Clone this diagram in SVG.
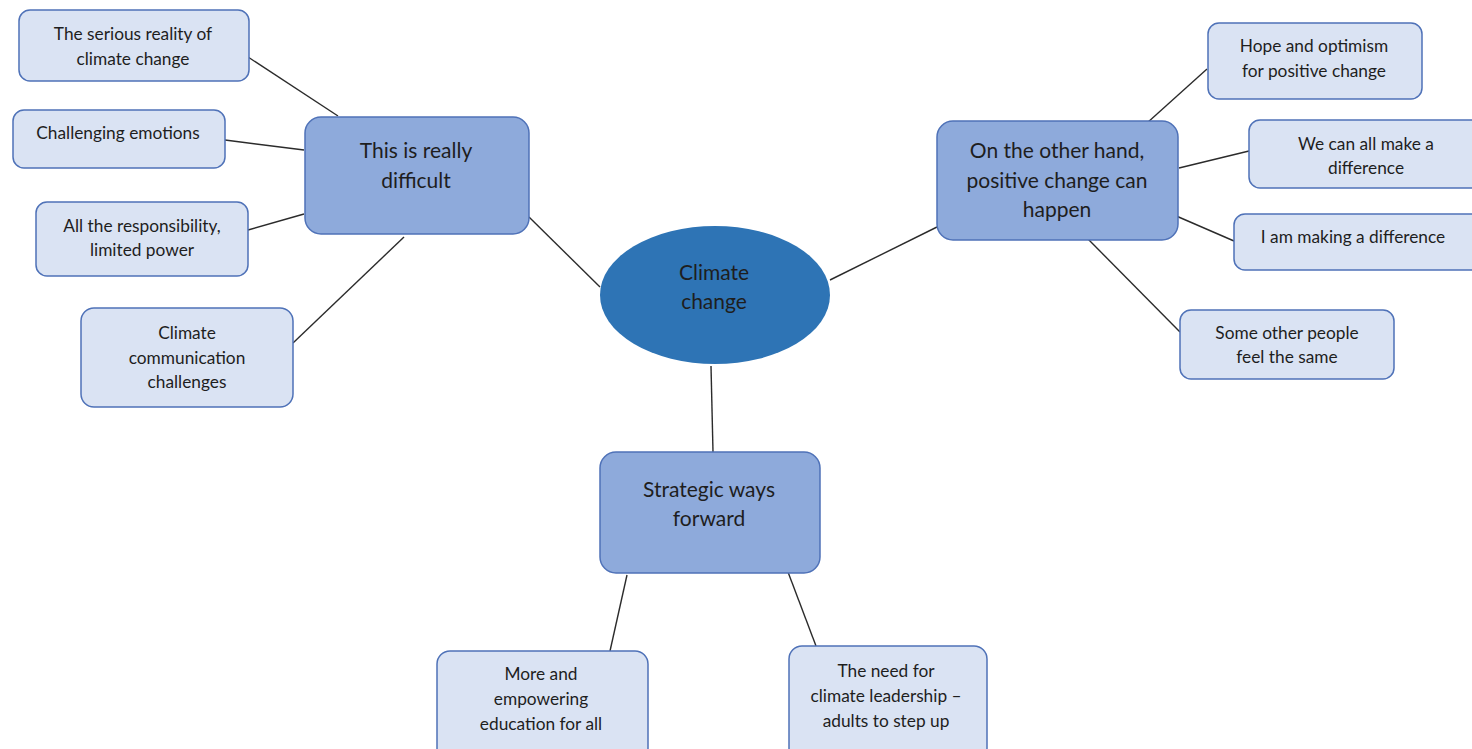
<svg xmlns="http://www.w3.org/2000/svg" width="1472" height="749" viewBox="0 0 1472 749">
<style>
.sub{fill:#dae3f3;stroke:#4f72b8;stroke-width:1.5}
.main{fill:#8eaadb;stroke:#4f72b8;stroke-width:1.5}
.t{font-family:Lato,"Open Sans",sans-serif;font-size:17.3px;fill:#1e1e1e;text-anchor:middle}
.tm{font-family:Lato,"Open Sans",sans-serif;font-size:21px;fill:#1e1e1e;text-anchor:middle}
.c line{stroke:#2b2b2b;stroke-width:1.4}
</style>
<rect width="1472" height="749" fill="#ffffff"/>
<g class="c" id="connectors">
<line x1="600" y1="287" x2="529" y2="217"/>
<line x1="248" y1="57" x2="338" y2="116"/>
<line x1="225" y1="140" x2="304" y2="150"/>
<line x1="248" y1="230" x2="304" y2="214"/>
<line x1="293" y1="343" x2="404" y2="237"/>
<line x1="830" y1="280" x2="937" y2="227"/>
<line x1="1147" y1="123" x2="1207" y2="69"/>
<line x1="1179" y1="168" x2="1249" y2="151"/>
<line x1="1174" y1="215" x2="1234" y2="241"/>
<line x1="1088" y1="239" x2="1180" y2="332"/>
<line x1="711" y1="366" x2="713" y2="452"/>
<line x1="627" y1="575" x2="610" y2="651"/>
<line x1="788" y1="572" x2="816" y2="646"/>
</g>
<g id="center">
<ellipse cx="715" cy="295" rx="115" ry="69" fill="#2e74b5"/>
<text class="tm" x="714" y="280">Climate</text>
<text class="tm" x="714" y="309">change</text>
</g>
<g id="difficult">
<rect class="main" x="305" y="117" width="224" height="117" rx="16"/>
<text class="tm" x="416" y="158">This is really</text>
<text class="tm" x="416" y="188">difficult</text>
</g>
<g id="positive">
<rect class="main" x="937" y="121" width="241" height="119" rx="16"/>
<text class="tm" x="1057" y="158">On the other hand,</text>
<text class="tm" x="1057" y="188">positive change can</text>
<text class="tm" x="1057" y="217">happen</text>
</g>
<g id="strategic">
<rect class="main" x="600" y="452" width="220" height="121" rx="16"/>
<text class="tm" x="709" y="497">Strategic ways</text>
<text class="tm" x="709" y="526">forward</text>
</g>
<g id="serious">
<rect class="sub" x="19" y="10" width="230" height="71" rx="11"/>
<text class="t" x="133" y="40">The serious reality of</text>
<text class="t" x="133" y="65">climate change</text>
</g>
<g id="emotions">
<rect class="sub" x="13" y="110" width="212" height="58" rx="11"/>
<text class="t" x="118" y="139">Challenging emotions</text>
</g>
<g id="responsibility">
<rect class="sub" x="36" y="202" width="212" height="74" rx="11"/>
<text class="t" x="142" y="232">All the responsibility,</text>
<text class="t" x="142" y="256">limited power</text>
</g>
<g id="communication">
<rect class="sub" x="81" y="308" width="212" height="99" rx="13"/>
<text class="t" x="187" y="339">Climate</text>
<text class="t" x="187" y="364">communication</text>
<text class="t" x="187" y="388">challenges</text>
</g>
<g id="hope">
<rect class="sub" x="1208" y="23" width="214" height="76" rx="11"/>
<text class="t" x="1314" y="52">Hope and optimism</text>
<text class="t" x="1314" y="77">for positive change</text>
</g>
<g id="weall">
<rect class="sub" x="1249" y="120" width="235" height="68" rx="11"/>
<text class="t" x="1366" y="150">We can all make a</text>
<text class="t" x="1366" y="174">difference</text>
</g>
<g id="iam">
<rect class="sub" x="1234" y="214" width="250" height="56" rx="11"/>
<text class="t" x="1353" y="243">I am making a difference</text>
</g>
<g id="others">
<rect class="sub" x="1180" y="310" width="214" height="69" rx="11"/>
<text class="t" x="1287" y="339">Some other people</text>
<text class="t" x="1287" y="363">feel the same</text>
</g>
<g id="education">
<rect class="sub" x="437" y="651" width="211" height="110" rx="13"/>
<text class="t" x="541" y="680">More and</text>
<text class="t" x="541" y="705">empowering</text>
<text class="t" x="541" y="730">education for all</text>
</g>
<g id="leadership">
<rect class="sub" x="789" y="646" width="198" height="115" rx="13"/>
<text class="t" x="886" y="677">The need for</text>
<text class="t" x="886" y="702">climate leadership –</text>
<text class="t" x="886" y="727">adults to step up</text>
</g>
</svg>
